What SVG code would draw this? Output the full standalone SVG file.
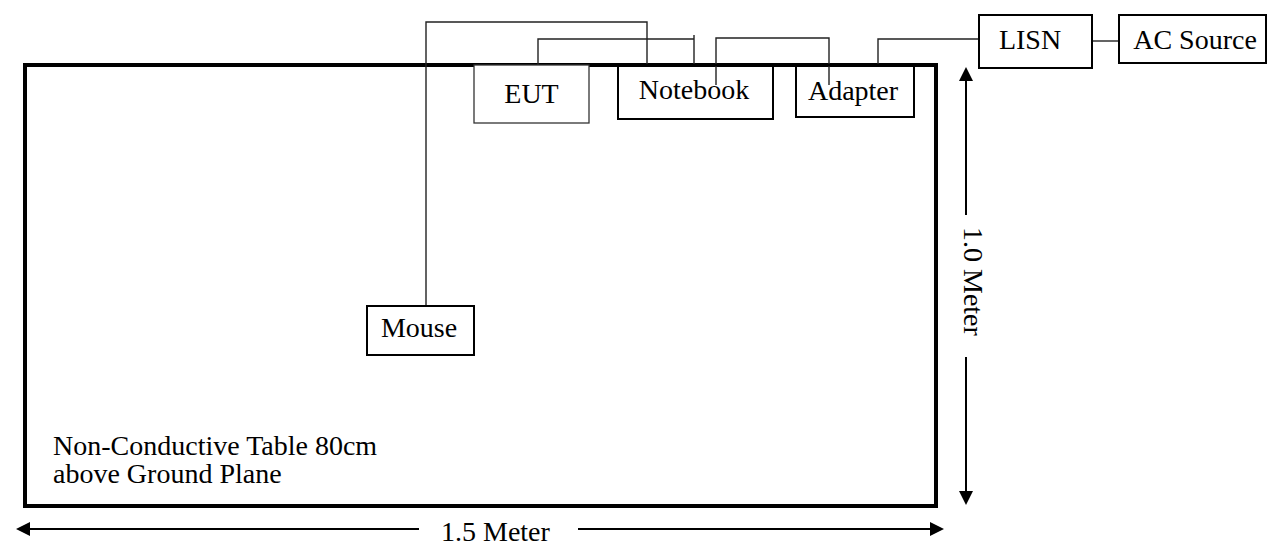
<svg xmlns="http://www.w3.org/2000/svg" width="1268" height="548" viewBox="0 0 1268 548">
<style>
  text { font-family: "Liberation Serif", "Times New Roman", serif; font-size: 28px; fill: #000; }
  .box { fill: #fff; stroke: #000; stroke-width: 2; }
  .open { fill: none; stroke: #000; stroke-width: 2; }
  .thin { fill: #fff; stroke: #333; stroke-width: 1.3; }
  .wire { fill: none; stroke: #222; stroke-width: 1.4; }
  .dim { fill: none; stroke: #000; stroke-width: 2; }
</style>
<defs>
  <marker id="ah" viewBox="0 0 14 14" refX="1" refY="7" markerWidth="14" markerHeight="14" orient="auto-start-reverse" markerUnits="userSpaceOnUse">
    <path d="M0,0 L14,7 L0,14 z" fill="#000"/>
  </marker>
</defs>
<rect width="1268" height="548" fill="#fff"/>

<g id="table">
  <rect x="25" y="65" width="911" height="441" fill="none" stroke="#000" stroke-width="4"/>
  <text x="53" y="455">Non-Conductive Table 80cm</text>
  <text x="53" y="483">above Ground Plane</text>
</g>

<g id="connectors">
  <path class="wire" d="M426,306 V22 H647 V65"/>
  <path class="wire" d="M538,65 V39 H694 M694,35 V65"/>
  <path class="wire" d="M716,85 V38 H829 V85"/>
  <path class="wire" d="M878,65 V39 H979"/>
  <path class="wire" d="M1092,41 H1119"/>
</g>

<g id="eut">
  <rect class="thin" x="474" y="65" width="115" height="58"/>
  <text x="531.5" y="103" text-anchor="middle">EUT</text>
</g>
<g id="notebook">
  <rect class="open" x="618" y="65" width="155" height="54"/>
  <text x="694" y="99" text-anchor="middle">Notebook</text>
</g>
<g id="adapter">
  <rect class="open" x="796" y="65" width="118" height="52"/>
  <text x="853" y="100" text-anchor="middle">Adapter</text>
</g>
<g id="lisn">
  <rect class="box" x="979" y="15" width="113" height="53"/>
  <text x="1030" y="49" text-anchor="middle">LISN</text>
</g>
<g id="ac-source">
  <rect class="box" x="1119" y="15" width="147" height="48"/>
  <text x="1195" y="49" text-anchor="middle">AC Source</text>
</g>
<g id="mouse">
  <rect class="box" x="367" y="306" width="107" height="49"/>
  <text x="419" y="337" text-anchor="middle">Mouse</text>
</g>

<g id="dimensions">
  <line class="dim" x1="966" y1="215" x2="966" y2="80" marker-end="url(#ah)"/>
  <line class="dim" x1="966" y1="357" x2="966" y2="492" marker-end="url(#ah)"/>
  <text transform="translate(964,227) rotate(90)">1.0 Meter</text>
  <line class="dim" x1="419" y1="529" x2="29" y2="529" marker-end="url(#ah)"/>
  <line class="dim" x1="578" y1="529" x2="931" y2="529" marker-end="url(#ah)"/>
  <text x="441" y="541">1.5 Meter</text>
</g>
</svg>
